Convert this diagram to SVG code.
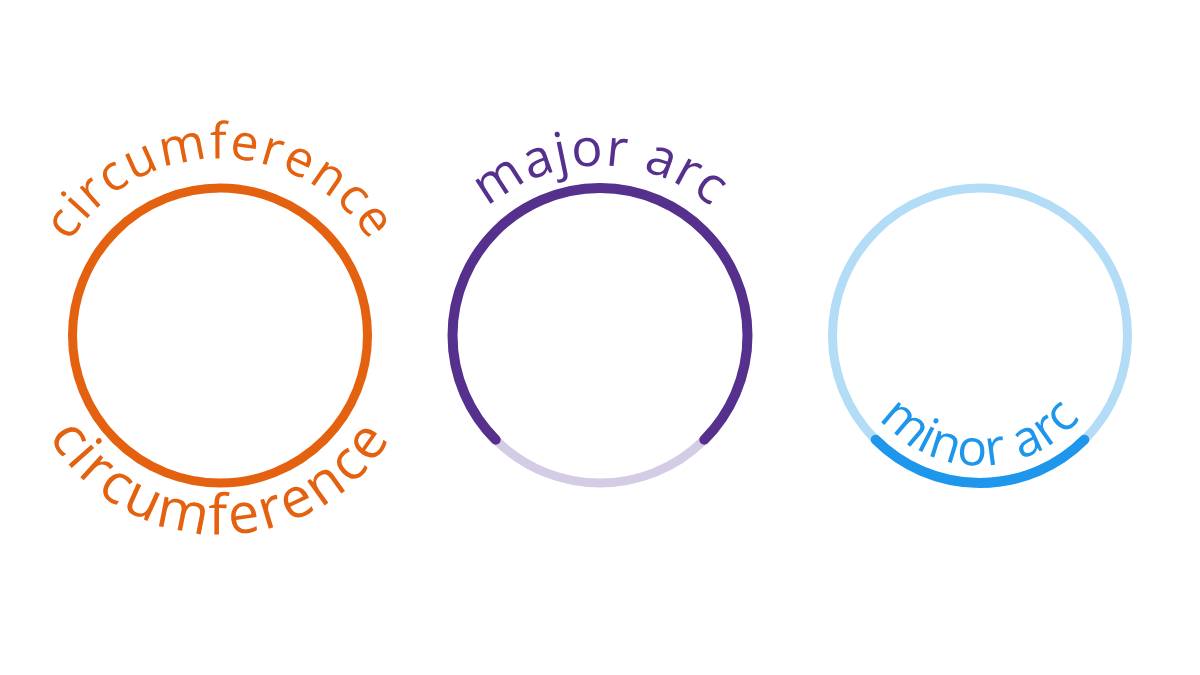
<svg xmlns="http://www.w3.org/2000/svg" width="1200" height="675" viewBox="0 0 1200 675">
<style>
.lbl{font-family:"Open Sans","Noto Sans","Liberation Sans",sans-serif;font-weight:400}
.ring{fill:none;stroke-width:9}
.arc{fill:none;stroke-width:10;stroke-linecap:round}
</style>
<defs>
<path id="p1top" d="M 43,335.5 A 177 177 0 0 1 397,335.5"/>
<path id="p1bot" d="M 21,335.5 A 199 199 0 0 0 419,335.5"/>
<path id="p2top" d="M 430,335.5 A 170 170 0 0 1 770,335.5"/>
<path id="p3bot" d="M 850,335.5 A 130 130 0 0 0 1110,335.5"/>
</defs>
<rect width="1200" height="675" fill="#ffffff"/>
<g id="circumference">
<circle class="ring" cx="220" cy="335.5" r="147.5" stroke="#E4610F"/>
<text class="lbl" font-size="50" letter-spacing="2" fill="#E4610F"><textPath href="#p1top" startOffset="50%" text-anchor="middle">circumference</textPath></text>
<text class="lbl" font-size="56" letter-spacing="3" fill="#E4610F"><textPath href="#p1bot" startOffset="50%" text-anchor="middle">circumference</textPath></text>
</g>
<g id="major-arc">
<circle class="ring" cx="600" cy="335.5" r="147.5" stroke="#D4CCE4"/>
<path class="arc" d="M 495.7,439.8 A 147.5 147.5 0 1 1 704.3,439.8" stroke="#55308D" stroke-width="9"/>
<text class="lbl" font-size="52" letter-spacing="1.5" fill="#55308D"><textPath href="#p2top" startOffset="50%" text-anchor="middle">major arc</textPath></text>
</g>
<g id="minor-arc">
<circle class="ring" cx="980" cy="335.5" r="147.5" stroke="#B3DCF7"/>
<path class="arc" d="M 875.7,439.8 A 147.5 147.5 0 0 0 1084.3,439.8" stroke="#1E96EB"/>
<text class="lbl" font-size="50" letter-spacing="0.5" fill="#1E96EB"><textPath href="#p3bot" startOffset="50%" text-anchor="middle">minor arc</textPath></text>
</g>
</svg>
